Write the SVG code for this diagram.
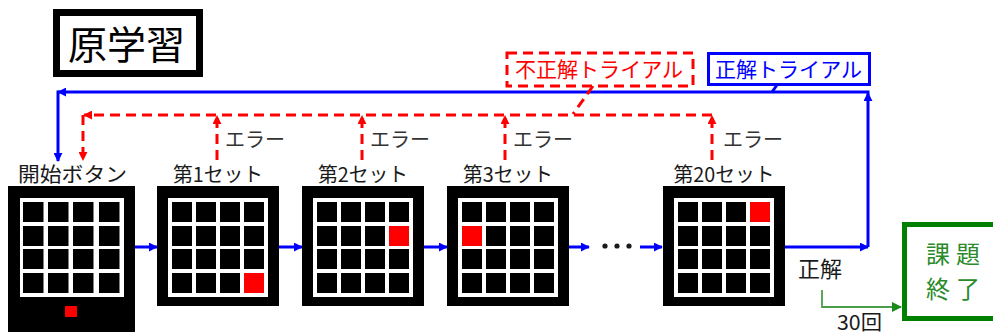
<svg xmlns="http://www.w3.org/2000/svg" width="993" height="336" viewBox="0 0 993 336">
<style>
.t{font-family:"Noto Sans CJK JP","Noto Sans CJK SC",sans-serif;}
.lbl{font-size:20px;fill:#1a1a1a;}
.err{font-size:20px;fill:#333;}
.blue{stroke:#0000ff;stroke-width:3;fill:none;}
.red{stroke:#ff0000;stroke-width:3;fill:none;stroke-dasharray:10 6;}
.outer{fill:#000;}
.grid{fill:#fff;}
.cell{fill:#000;}
.hit{fill:#ff0000;}
</style>
<defs>
<marker id="ab" viewBox="0 0 10 10" refX="9" refY="5" markerWidth="9" markerHeight="9" markerUnits="userSpaceOnUse" orient="auto"><path d="M0,0 L10,5 L0,10 z" fill="#0000ff"/></marker>
<marker id="ar" viewBox="0 0 10 10" refX="9" refY="5" markerWidth="9" markerHeight="9" markerUnits="userSpaceOnUse" orient="auto"><path d="M0,0 L10,5 L0,10 z" fill="#ff0000"/></marker>
<marker id="ag" viewBox="0 0 10 10" refX="9" refY="5" markerWidth="10" markerHeight="10" markerUnits="userSpaceOnUse" orient="auto"><path d="M0,0 L10,5 L0,10 z" fill="#1a8a1a"/></marker>
<g id="cells">
<rect class="cell" x="15" y="16" width="20" height="20"/><rect class="cell" x="39" y="16" width="20" height="20"/><rect class="cell" x="63" y="16" width="20" height="20"/><rect class="cell" x="87" y="16" width="20" height="20"/>
<rect class="cell" x="15" y="40" width="20" height="20"/><rect class="cell" x="39" y="40" width="20" height="20"/><rect class="cell" x="63" y="40" width="20" height="20"/><rect class="cell" x="87" y="40" width="20" height="20"/>
<rect class="cell" x="15" y="63" width="20" height="20"/><rect class="cell" x="39" y="63" width="20" height="20"/><rect class="cell" x="63" y="63" width="20" height="20"/><rect class="cell" x="87" y="63" width="20" height="20"/>
<rect class="cell" x="15" y="87" width="20" height="20"/><rect class="cell" x="39" y="87" width="20" height="20"/><rect class="cell" x="63" y="87" width="20" height="20"/><rect class="cell" x="87" y="87" width="20" height="20"/>
</g>
<g id="panel">
<rect class="outer" x="0" y="0" width="122" height="120"/>
<rect class="grid" x="11" y="12" width="100" height="99"/>
<use href="#cells"/>
</g>
</defs>

<g id="title">
<rect x="56.5" y="12.5" width="143" height="61" fill="#fff" stroke="#000" stroke-width="7"/>
<text class="t" x="68" y="59" font-size="39" fill="#000">原学習</text>
</g>

<g id="connectors">
<line class="blue" x1="785" y1="247" x2="868" y2="247" marker-end="url(#ab)"/>
<line class="blue" x1="868" y1="247" x2="868" y2="93" marker-end="url(#ab)"/>
<line class="blue" x1="869.5" y1="92" x2="58" y2="92" marker-end="url(#ab)"/>
<line class="blue" x1="58" y1="90.5" x2="58" y2="161" marker-end="url(#ab)"/>
<line class="blue" x1="135" y1="247" x2="157" y2="247" marker-end="url(#ab)"/>
<line class="blue" x1="279" y1="247" x2="302" y2="247" marker-end="url(#ab)"/>
<line class="blue" x1="424" y1="247" x2="447" y2="247" marker-end="url(#ab)"/>
<line class="blue" x1="569" y1="247" x2="589" y2="247" marker-end="url(#ab)"/>
<line class="blue" x1="640" y1="247" x2="662" y2="247" marker-end="url(#ab)"/>
<line class="blue" x1="777" y1="85" x2="772" y2="92" stroke-width="2"/>
<line class="red" x1="712" y1="115" x2="84" y2="115" marker-end="url(#ar)"/>
<line class="red" x1="83" y1="115" x2="83" y2="160" marker-end="url(#ar)"/>
<line class="red" x1="217" y1="160" x2="217" y2="116" marker-end="url(#ar)"/>
<line class="red" x1="362" y1="160" x2="362" y2="116" marker-end="url(#ar)"/>
<line class="red" x1="505" y1="160" x2="505" y2="116" marker-end="url(#ar)"/>
<line class="red" x1="712" y1="160" x2="712" y2="116" marker-end="url(#ar)"/>
<line class="red" x1="593" y1="86" x2="573" y2="114" stroke-dasharray="8 6"/>
<polyline points="822,290 822,307 901,307" fill="none" stroke="#4a9e4a" stroke-width="1.8" marker-end="url(#ag)"/>
<circle cx="605" cy="246" r="2.6" fill="#1a1a1a"/>
<circle cx="617" cy="246" r="2.6" fill="#1a1a1a"/>
<circle cx="629" cy="246" r="2.6" fill="#1a1a1a"/>
</g>

<g id="trial-wrong">
<rect x="507" y="53" width="186" height="33" fill="#fff" stroke="#ff0000" stroke-width="3" stroke-dasharray="10 6"/>
<text class="t" x="515" y="77" font-size="21" fill="#ff0000" textLength="168" lengthAdjust="spacingAndGlyphs">不正解トライアル</text>
</g>
<g id="trial-correct">
<rect x="708.5" y="53.5" width="161" height="31" fill="#fff" stroke="#0000ff" stroke-width="3"/>
<text class="t" x="715" y="77" font-size="21" fill="#0000ff" textLength="147" lengthAdjust="spacingAndGlyphs">正解トライアル</text>
</g>

<g id="errors">
<text class="t err" x="225" y="147">エラー</text>
<text class="t err" x="370" y="147">エラー</text>
<text class="t err" x="513" y="147">エラー</text>
<text class="t err" x="723" y="147">エラー</text>
</g>

<g id="start">
<text class="t lbl" x="18" y="182" font-size="21" textLength="109" lengthAdjust="spacingAndGlyphs">開始ボタン</text>
<rect class="outer" x="8" y="186" width="127" height="146"/>
<rect class="grid" x="20" y="198" width="104" height="99"/>
<g transform="translate(8,186)">
<rect class="cell" x="15" y="16" width="20.5" height="20"/><rect class="cell" x="40" y="16" width="20.5" height="20"/><rect class="cell" x="65" y="16" width="20.5" height="20"/><rect class="cell" x="91" y="16" width="20.5" height="20"/>
<rect class="cell" x="15" y="40" width="20.5" height="20"/><rect class="cell" x="40" y="40" width="20.5" height="20"/><rect class="cell" x="65" y="40" width="20.5" height="20"/><rect class="cell" x="91" y="40" width="20.5" height="20"/>
<rect class="cell" x="15" y="63" width="20.5" height="20"/><rect class="cell" x="40" y="63" width="20.5" height="20"/><rect class="cell" x="65" y="63" width="20.5" height="20"/><rect class="cell" x="91" y="63" width="20.5" height="20"/>
<rect class="cell" x="15" y="87" width="20.5" height="20"/><rect class="cell" x="40" y="87" width="20.5" height="20"/><rect class="cell" x="65" y="87" width="20.5" height="20"/><rect class="cell" x="91" y="87" width="20.5" height="20"/>
</g>
<rect class="hit" x="65" y="306" width="12" height="11"/>
</g>

<g id="set1">
<text class="t lbl" x="218" y="182" text-anchor="middle" textLength="90" lengthAdjust="spacingAndGlyphs">第1セット</text>
<use href="#panel" x="157" y="186"/>
<rect class="hit" x="244" y="273" width="20" height="20"/>
</g>
<g id="set2">
<text class="t lbl" x="363" y="182" text-anchor="middle" textLength="90" lengthAdjust="spacingAndGlyphs">第2セット</text>
<use href="#panel" x="302" y="186"/>
<rect class="hit" x="389" y="226" width="20" height="20"/>
</g>
<g id="set3">
<text class="t lbl" x="508" y="182" text-anchor="middle" textLength="90" lengthAdjust="spacingAndGlyphs">第3セット</text>
<use href="#panel" x="447" y="186"/>
<rect class="hit" x="462" y="226" width="20" height="20"/>
</g>
<g id="set20">
<text class="t lbl" x="724" y="182" text-anchor="middle" textLength="101" lengthAdjust="spacingAndGlyphs">第20セット</text>
<use href="#panel" x="663" y="186"/>
<rect class="hit" x="750" y="202" width="20" height="20"/>
</g>

<g id="labels">
<text class="t" x="798" y="277" font-size="22" fill="#1a1a1a">正解</text>
<text class="t" x="837" y="330" font-size="20" fill="#1a1a1a" textLength="45" lengthAdjust="spacingAndGlyphs">30回</text>
</g>

<g id="end">
<rect x="904.5" y="224.5" width="100" height="94" fill="#fff" stroke="#008000" stroke-width="5"/>
<text class="t" x="926" y="263" font-size="24" fill="#2a8a2a" textLength="54" lengthAdjust="spacing">課題</text>
<text class="t" x="926" y="298" font-size="24" fill="#2a8a2a" textLength="54" lengthAdjust="spacing">終了</text>
</g>
</svg>
